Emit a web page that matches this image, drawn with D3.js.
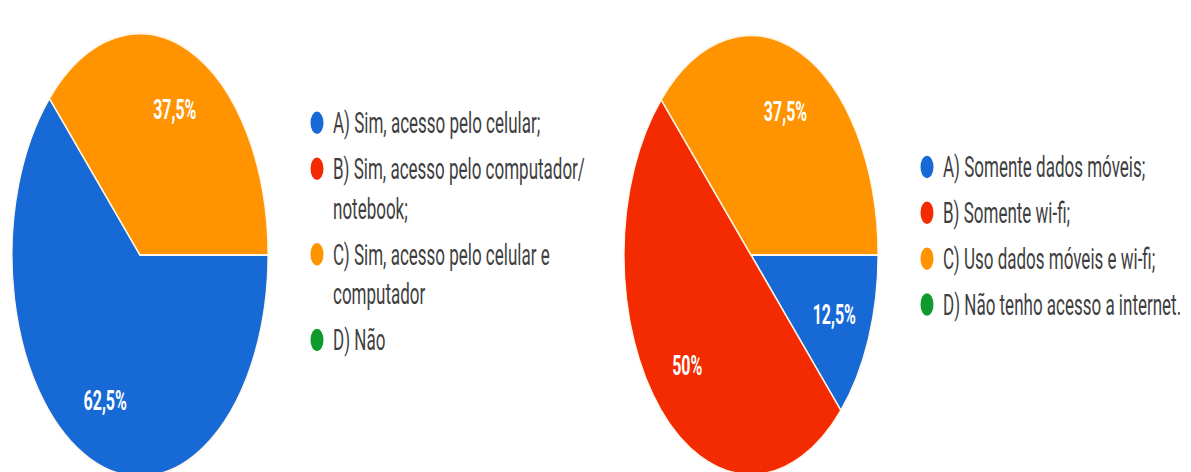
<!DOCTYPE html>
<html>
<head>
<meta charset="utf-8">
<script src="https://cdn.jsdelivr.net/npm/d3@7"></script>
<style>
  body { margin: 0; background: #fff; }
  svg { display: block; }
  .legend text { font-family: Roboto, "Noto Sans", sans-serif; font-size: 17px; fill: #3f3f3f; }
  .slicelabel { font-family: Roboto, "Noto Sans", sans-serif; font-size: 16px; font-weight: bold; fill: #fff; }
</style>
</head>
<body>
<div id="chart"></div>
<script>
var width = 1191, height = 472;
// the picture is stretched vertically, so everything is drawn in a squashed frame
var stretch = 1.73;

var colors = ["#1769d6", "#f42a00", "#ff9300", "#0f9a2e"];

var values1 = [62.5, 0, 37.5, 0];
var legend1 = [
  ["A) Sim, acesso pelo celular;"],
  ["B) Sim, acesso pelo computador/", "notebook;"],
  ["C) Sim, acesso pelo celular e", "computador"],
  ["D) Não"]
];

var values2 = [12.5, 50, 37.5, 0];
var legend2 = [
  ["A) Somente dados móveis;"],
  ["B) Somente wi-fi;"],
  ["C) Uso dados móveis e wi-fi;"],
  ["D) Não tenho acesso a internet."]
];

var svg = d3.select("#chart")
  .append("svg")
    .attr("width", width)
    .attr("height", height)
  .append("g")
    .attr("transform", "scale(1," + stretch + ")");

var pie = d3.pie()
    .sort(null)
    .value(function(d) { return d; })
    .startAngle(Math.PI / 2)
    .endAngle(Math.PI / 2 + 2 * Math.PI);

function drawPie(values, cx, r) {
  var cy = 147.4;
  var arc = d3.arc().innerRadius(0).outerRadius(r);
  var labelArc = d3.arc().innerRadius(r * 0.71).outerRadius(r * 0.71);

  var g = svg.append("g")
      .attr("transform", "translate(" + cx + "," + cy + ")");

  var arcs = pie(values).filter(function(d) { return d.value > 0; });

  g.selectAll("path")
    .data(arcs)
    .enter().append("path")
      .attr("d", arc)
      .attr("fill", function(d) { return colors[d.index]; })
      .attr("stroke", "#fdf6e8")
      .attr("stroke-width", 1.2);

  g.selectAll("text")
    .data(arcs)
    .enter().append("text")
      .attr("class", "slicelabel")
      .attr("transform", function(d) { return "translate(" + labelArc.centroid(d) + ")"; })
      .attr("text-anchor", "middle")
      .attr("dy", "0.35em")
      .text(function(d) { return String(d.value).replace(".", ",") + "%"; });
}

function drawLegend(items, x, y0) {
  var lineH = 23, gap = 26.5;
  var g = svg.append("g").attr("class", "legend");
  var y = y0;
  items.forEach(function(lines, i) {
    g.append("circle")
      .attr("cx", x)
      .attr("cy", y)
      .attr("r", 6.5)
      .attr("fill", colors[i]);
    lines.forEach(function(line, j) {
      g.append("text")
        .attr("x", x + 16)
        .attr("y", y + j * lineH)
        .attr("dy", "0.35em")
        .text(line);
    });
    y += (lines.length - 1) * lineH + gap;
  });
}

drawPie(values1, 140, 128);
drawLegend(legend1, 317, 71);

drawPie(values2, 751, 127);
drawLegend(legend2, 927, 96.5);
</script>
</body>
</html>
